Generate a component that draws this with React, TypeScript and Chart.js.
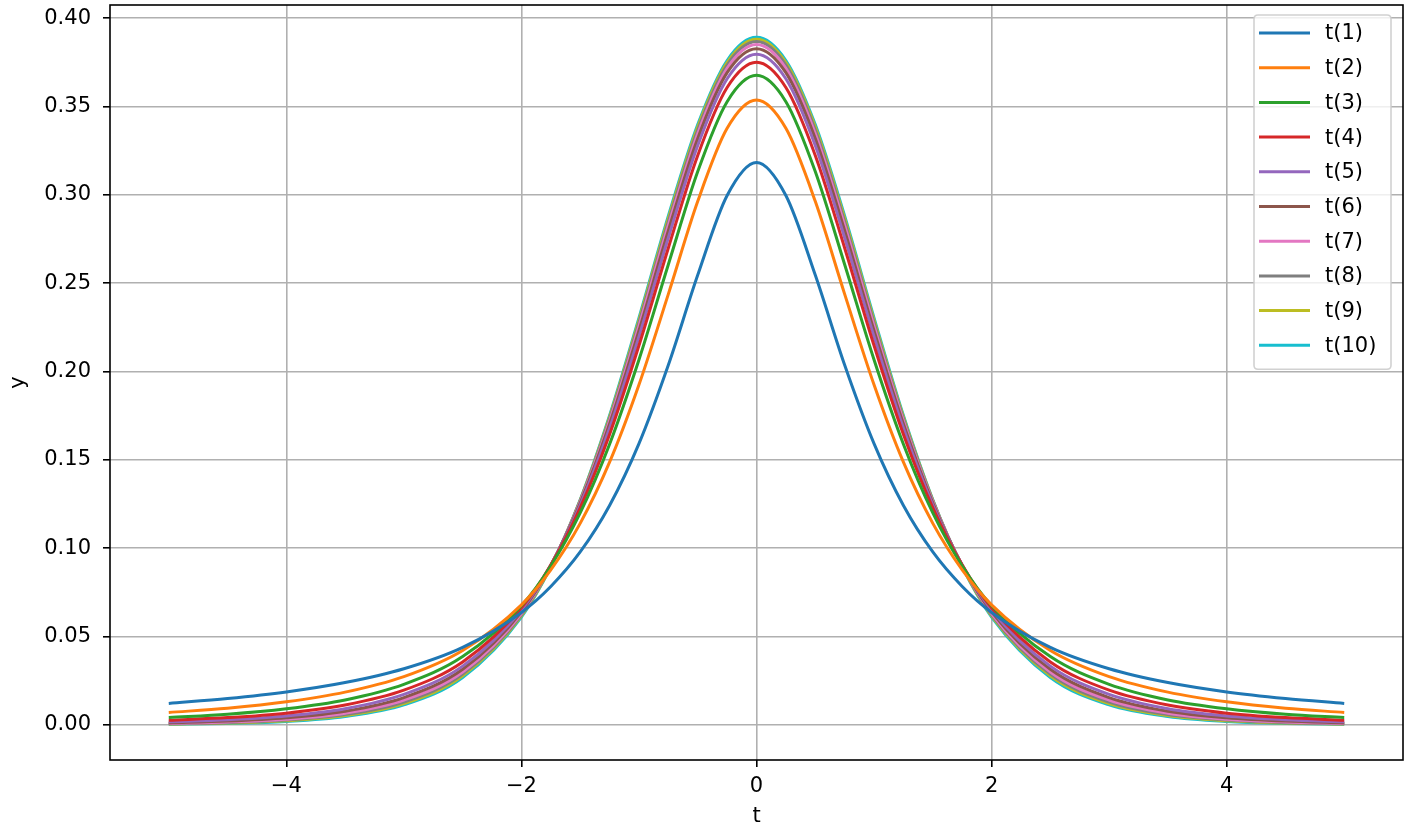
import React, { useEffect, useRef } from "react";
import { Chart, registerables } from "chart.js";

Chart.register(...registerables);

// x positions of the sampled points
const xValues = [-5, -4.5, -4, -3.5, -3, -2.5, -2, -1.75, -1.5, -1.25, -1, -0.75, -0.5, -0.25, 0, 0.25, 0.5, 0.75, 1, 1.25, 1.5, 1.75, 2, 2.5, 3, 3.5, 4, 4.5, 5];

const seriesLabels = ["t(1)", "t(2)", "t(3)", "t(4)", "t(5)", "t(6)", "t(7)", "t(8)", "t(9)", "t(10)"];
const seriesColors = ["#1f77b4", "#ff7f0e", "#2ca02c", "#d62728", "#9467bd", "#8c564b", "#e377c2", "#7f7f7f", "#bcbd22", "#17becf"];

const t1 = [0.0122, 0.0150, 0.0187, 0.0240, 0.0318, 0.0439, 0.0637, 0.0784, 0.0979, 0.1242, 0.1592, 0.2037, 0.2546, 0.2996, 0.3183, 0.2996, 0.2546, 0.2037, 0.1592, 0.1242, 0.0979, 0.0784, 0.0637, 0.0439, 0.0318, 0.0240, 0.0187, 0.0150, 0.0122];
const t2 = [0.0071, 0.0095, 0.0131, 0.0186, 0.0274, 0.0422, 0.0680, 0.0878, 0.1141, 0.1487, 0.1925, 0.2438, 0.2963, 0.3376, 0.3536, 0.3376, 0.2963, 0.2438, 0.1925, 0.1487, 0.1141, 0.0878, 0.0680, 0.0422, 0.0274, 0.0186, 0.0131, 0.0095, 0.0071];
const t3 = [0.0042, 0.0061, 0.0092, 0.0142, 0.0230, 0.0387, 0.0675, 0.0900, 0.1200, 0.1589, 0.2067, 0.2606, 0.3132, 0.3527, 0.3676, 0.3527, 0.3132, 0.2606, 0.2067, 0.1589, 0.1200, 0.0900, 0.0675, 0.0387, 0.0230, 0.0142, 0.0092, 0.0061, 0.0042];
const t4 = [0.0027, 0.0042, 0.0067, 0.0113, 0.0197, 0.0357, 0.0663, 0.0905, 0.1229, 0.1644, 0.2147, 0.2699, 0.3223, 0.3607, 0.3750, 0.3607, 0.3223, 0.2699, 0.2147, 0.1644, 0.1229, 0.0905, 0.0663, 0.0357, 0.0197, 0.0113, 0.0067, 0.0042, 0.0027];
const t5 = [0.0018, 0.0030, 0.0051, 0.0092, 0.0173, 0.0333, 0.0651, 0.0905, 0.1245, 0.1679, 0.2197, 0.2757, 0.3279, 0.3657, 0.3796, 0.3657, 0.3279, 0.2757, 0.2197, 0.1679, 0.1245, 0.0905, 0.0651, 0.0333, 0.0173, 0.0092, 0.0051, 0.0030, 0.0018];
const t6 = [0.0012, 0.0022, 0.0041, 0.0078, 0.0155, 0.0315, 0.0640, 0.0904, 0.1256, 0.1703, 0.2231, 0.2797, 0.3318, 0.3691, 0.3827, 0.3691, 0.3318, 0.2797, 0.2231, 0.1703, 0.1256, 0.0904, 0.0640, 0.0315, 0.0155, 0.0078, 0.0041, 0.0022, 0.0012];
const t7 = [0.0009, 0.0017, 0.0033, 0.0067, 0.0141, 0.0300, 0.0631, 0.0902, 0.1263, 0.1720, 0.2257, 0.2826, 0.3346, 0.3715, 0.3850, 0.3715, 0.3346, 0.2826, 0.2257, 0.1720, 0.1263, 0.0902, 0.0631, 0.0300, 0.0141, 0.0067, 0.0033, 0.0017, 0.0009];
const t8 = [0.0007, 0.0013, 0.0028, 0.0059, 0.0130, 0.0288, 0.0624, 0.0899, 0.1268, 0.1733, 0.2276, 0.2848, 0.3367, 0.3734, 0.3867, 0.3734, 0.3367, 0.2848, 0.2276, 0.1733, 0.1268, 0.0899, 0.0624, 0.0288, 0.0130, 0.0059, 0.0028, 0.0013, 0.0007];
const t9 = [0.0005, 0.0011, 0.0024, 0.0053, 0.0121, 0.0278, 0.0617, 0.0897, 0.1272, 0.1743, 0.2291, 0.2866, 0.3384, 0.3748, 0.3880, 0.3748, 0.3384, 0.2866, 0.2291, 0.1743, 0.1272, 0.0897, 0.0617, 0.0278, 0.0121, 0.0053, 0.0024, 0.0011, 0.0005];
const t10 = [0.0004, 0.0009, 0.0020, 0.0048, 0.0114, 0.0269, 0.0611, 0.0895, 0.1274, 0.1751, 0.2304, 0.2880, 0.3397, 0.3760, 0.3891, 0.3760, 0.3397, 0.2880, 0.2304, 0.1751, 0.1274, 0.0895, 0.0611, 0.0269, 0.0114, 0.0048, 0.0020, 0.0009, 0.0004];

const seriesValues = [t1, t2, t3, t4, t5, t6, t7, t8, t9, t10];

const xTicks = [-4, -2, 0, 2, 4];
const yTicks = [0, 0.05, 0.1, 0.15, 0.2, 0.25, 0.3, 0.35, 0.4];

const FONT = "'DejaVu Sans', sans-serif";
const FONT_SIZE = 21;
const LEGEND_FONT_SIZE = 21;

const framePlugin = {
  id: "frame",
  afterDatasetsDraw(chart: any) {
    const { ctx, chartArea } = chart;
    ctx.save();
    ctx.strokeStyle = "#000";
    ctx.lineWidth = 1.6;
    ctx.strokeRect(chartArea.left, chartArea.top, chartArea.right - chartArea.left, chartArea.bottom - chartArea.top);
    ctx.restore();
  },
};

const legendPlugin = {
  id: "mplLegend",
  afterDraw(chart: any) {
    const { ctx, chartArea } = chart;
    const right = chartArea.right - 12;
    const left = right - 137;
    const top = chartArea.top + 10;
    const rowH = 34.7;
    const n = chart.data.datasets.length;
    const bottom = top + 18 + (n - 1) * rowH + 24;
    const r = 4;
    ctx.save();
    ctx.beginPath();
    ctx.moveTo(left + r, top);
    ctx.lineTo(right - r, top);
    ctx.quadraticCurveTo(right, top, right, top + r);
    ctx.lineTo(right, bottom - r);
    ctx.quadraticCurveTo(right, bottom, right - r, bottom);
    ctx.lineTo(left + r, bottom);
    ctx.quadraticCurveTo(left, bottom, left, bottom - r);
    ctx.lineTo(left, top + r);
    ctx.quadraticCurveTo(left, top, left + r, top);
    ctx.closePath();
    ctx.fillStyle = "rgba(255,255,255,0.8)";
    ctx.fill();
    ctx.strokeStyle = "rgba(204,204,204,0.9)";
    ctx.lineWidth = 1.6;
    ctx.stroke();
    ctx.font = `${LEGEND_FONT_SIZE}px ${FONT}`;
    ctx.textBaseline = "middle";
    ctx.textAlign = "left";
    chart.data.datasets.forEach((ds: any, i: number) => {
      const y = top + 18 + i * rowH;
      ctx.beginPath();
      ctx.moveTo(left + 5, y);
      ctx.lineTo(left + 56, y);
      ctx.strokeStyle = ds.borderColor;
      ctx.lineWidth = 3;
      ctx.stroke();
      ctx.fillStyle = "#000";
      ctx.fillText(ds.label, left + 71, y + 1);
    });
    ctx.restore();
  },
};

export default function App() {
  const canvasRef = useRef<HTMLCanvasElement | null>(null);

  useEffect(() => {
    if (!canvasRef.current) return;
    const datasets = seriesLabels.map((label, i) => ({
      label,
      data: xValues.map((x, j) => ({ x, y: seriesValues[i][j] })),
      borderColor: seriesColors[i],
      backgroundColor: seriesColors[i],
      borderWidth: 3,
      pointRadius: 0,
      fill: false,
      cubicInterpolationMode: "monotone" as const,
    }));

    const chart = new Chart(canvasRef.current, {
      type: "line",
      data: { datasets },
      plugins: [framePlugin, legendPlugin],
      options: {
        animation: false,
        responsive: false,
        events: [],
        layout: { padding: { top: 5, right: 9, left: 0, bottom: 0 } },
        plugins: { legend: { display: false }, tooltip: { enabled: false } },
        scales: {
          x: {
            type: "linear",
            min: -5.5,
            max: 5.5,
            afterBuildTicks: (scale: any) => {
              scale.ticks = xTicks.map((v) => ({ value: v }));
            },
            afterFit: (scale: any) => {
              scale.height = 70;
              scale.paddingLeft = 0;
              scale.paddingRight = 0;
            },
            ticks: {
              color: "#000",
              font: { family: FONT, size: FONT_SIZE },
              padding: 7,
              maxRotation: 0,
              autoSkip: false,
              callback: (v: any) => (v < 0 ? "\u2212" + Math.abs(v) : String(v)),
            },
            grid: {
              color: "#b0b0b0",
              lineWidth: 1.6,
              tickLength: 7,
              tickColor: "#000",
              tickWidth: 1.6,
            },
            border: { display: false },
            title: {
              display: true,
              text: "t",
              color: "#000",
              font: { family: FONT, size: FONT_SIZE },
              padding: { top: 0, bottom: 1 },
            },
          },
          y: {
            type: "linear",
            min: -0.0198,
            max: 0.4074,
            afterBuildTicks: (scale: any) => {
              scale.ticks = yTicks.map((v) => ({ value: v }));
            },
            afterFit: (scale: any) => {
              scale.width = 110;
              scale.paddingTop = 0;
              scale.paddingBottom = 0;
            },
            ticks: {
              color: "#000",
              font: { family: FONT, size: FONT_SIZE },
              padding: 12,
              autoSkip: false,
              callback: (v: any) => Number(v).toFixed(2),
            },
            grid: {
              color: "#b0b0b0",
              lineWidth: 1.6,
              tickLength: 7,
              tickColor: "#000",
              tickWidth: 1.6,
            },
            border: { display: false },
            title: {
              display: true,
              text: "y",
              color: "#000",
              font: { family: FONT, size: FONT_SIZE },
              padding: { top: 6, bottom: 0 },
            },
          },
        },
      },
    });
    return () => chart.destroy();
  }, []);

  return (
    <div style={{ position: "fixed", left: 0, top: 0, width: 1412, height: 830, background: "#fff" }}>
      <canvas ref={canvasRef} width={1412} height={830} style={{ display: "block" }} />
    </div>
  );
}
